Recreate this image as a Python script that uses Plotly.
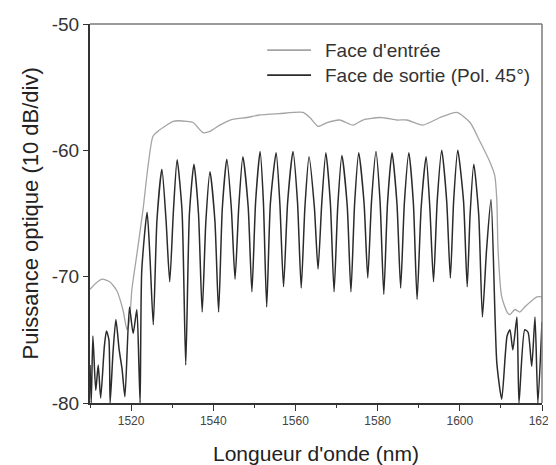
import plotly.graph_objects as go

# ---- data ----
gray_nm = [1510.0, 1511.5, 1513.0, 1514.8, 1516.5, 1518.0, 1519.0, 1519.6, 1520.2, 1521.2,
           1522.9, 1524.1, 1525.3, 1526.5, 1528.7, 1530.2, 1533.6, 1535.1, 1537.5, 1539.2,
           1541.6, 1544.1, 1548.2, 1551.4, 1556.0, 1561.8, 1563.5, 1565.5, 1567.7, 1570.8,
           1574.0, 1576.4, 1580.6, 1584.7, 1587.1, 1591.0, 1595.2, 1599.3, 1602.5, 1604.9,
           1607.3, 1608.5, 1609.0, 1609.3, 1610.2, 1611.5, 1612.2, 1613.4, 1614.6, 1615.8,
           1617.5, 1618.8, 1620.0]
gray_db = [-71.0, -70.5, -70.2, -70.4, -71.1, -72.6, -74.2, -73.5, -71.0, -68.7,
           -64.7, -61.3, -58.9, -58.5, -58.0, -57.7, -57.7, -57.8, -58.6, -58.5,
           -58.0, -57.6, -57.4, -57.2, -57.1, -57.0, -57.4, -58.1, -57.8, -57.6,
           -58.0, -57.6, -57.4, -57.6, -57.6, -58.0, -57.4, -57.0, -57.8, -59.3,
           -60.9, -62.0, -63.9, -67.8, -71.6, -72.8, -73.0, -72.6, -72.8, -72.4,
           -71.9, -71.6, -71.6]

# output face: noisy left tail, fringes (peak, wall, trough, wall ...), noisy right tail
black_nm = [1510.0, 1510.3, 1510.7, 1511.4, 1512.0, 1512.6, 1513.5, 1514.0, 1514.6, 1514.9,
            1515.6, 1516.3, 1517.1, 1517.8, 1518.5, 1519.6, 1520.5, 1521.4, 1521.9, 1522.2,
            1522.6,
            1523.9, 1524.6, 1525.4, 1526.3, 1527.5, 1528.5, 1529.4, 1530.3,
            1531.2, 1532.4, 1533.3, 1534.2, 1535.3, 1536.4, 1537.3, 1538.2,
            1539.2, 1540.4, 1541.3, 1542.2, 1543.3, 1544.4, 1545.3, 1546.2,
            1547.2, 1548.5, 1549.4, 1550.3, 1551.4, 1552.2, 1553.0, 1553.9,
            1555.3, 1556.2, 1557.1, 1558.1, 1559.4, 1560.5, 1561.4, 1562.3,
            1563.3, 1564.6, 1565.5, 1566.4, 1567.4, 1568.5, 1569.4, 1570.3,
            1571.3, 1572.6, 1573.5, 1574.4, 1575.4, 1576.7, 1577.6, 1578.5,
            1579.6, 1580.6, 1581.5, 1582.4, 1583.5, 1584.7, 1585.6, 1586.5,
            1587.6, 1588.7, 1589.6, 1590.6, 1591.8, 1592.7, 1593.6, 1594.5,
            1595.6, 1596.8, 1597.7, 1598.5, 1599.5, 1600.9, 1601.8, 1602.5,
            1603.4, 1604.6, 1605.5, 1606.5, 1607.6,
            1609.0, 1610.2, 1611.5, 1612.2, 1612.9, 1613.9, 1614.4, 1615.8, 1616.6, 1617.5,
            1618.3, 1619.0, 1620.0]
black_db = [-77.0, -80.0, -74.7, -79.0, -77.0, -79.6, -75.5, -74.3, -75.0, -80.0,
            -76.0, -73.4, -75.8, -77.3, -79.5, -72.4, -74.5, -72.6, -77.0, -80.0,
            -69.5,
            -64.9, -68.5, -73.8, -65.5, -61.5, -65.5, -70.4, -64.8,
            -60.75, -64.8, -77.0, -65.0, -61.1, -65.0, -72.8, -65.6,
            -61.7, -65.6, -72.8, -64.6, -60.7, -64.6, -70.2, -64.5,
            -60.5, -64.5, -71.2, -64.1, -60.1, -64.1, -72.4, -64.2,
            -60.2, -64.2, -70.8, -64.1, -60.1, -64.1, -70.9, -64.5,
            -60.5, -64.5, -69.4, -64.2, -60.2, -64.2, -71.2, -64.4,
            -60.4, -64.4, -71.2, -64.2, -60.2, -64.2, -70.1, -64.1,
            -60.1, -64.1, -71.4, -64.2, -60.2, -64.2, -70.9, -64.2,
            -60.2, -64.2, -71.8, -64.5, -60.5, -64.5, -70.4, -64.0,
            -60.0, -64.0, -70.1, -64.0, -60.0, -64.0, -70.8, -65.1,
            -61.1, -65.1, -73.2, -67.9, -63.9,
            -76.8, -79.7, -74.7, -74.2, -75.8, -73.2, -80.0, -74.2, -74.4, -77.1,
            -73.2, -80.0, -73.6]

series_names = ["Face d'entrée", "Face de sortie (Pol. 45°)"]
x_ticks = [1520, 1540, 1560, 1580, 1600, 1620]
x_tick_labels = ["1520", "1540", "1560", "1580", "1600", "1620"]
x_minor_ticks = [1510, 1530, 1550, 1570, 1590, 1610]
y_ticks = [-80, -70, -60, -50]
y_tick_labels = ["-80", "-70", "-60", "-50"]

GRAY = "#a4a4a4"
BLACK = "#2b2b2b"
FONT = "Arial, Liberation Sans, sans-serif"

fig = go.Figure()
fig.add_trace(go.Scatter(x=gray_nm, y=gray_db, mode="lines", name=series_names[0],
                         line=dict(color=GRAY, width=1.3, shape="spline", smoothing=0.6),
                         showlegend=False))
fig.add_trace(go.Scatter(x=black_nm, y=black_db, mode="lines", name=series_names[1],
                         line=dict(color=BLACK, width=1.5, shape="spline", smoothing=0.6),
                         showlegend=False))

# manual legend
leg_y = [0.931, 0.865]
for yy, col, name in zip(leg_y, [GRAY, BLACK], series_names):
    fig.add_shape(type="line", xref="paper", yref="paper", x0=0.392, x1=0.489, y0=yy, y1=yy,
                  line=dict(color=col, width=1.6))
    fig.add_annotation(xref="paper", yref="paper", x=0.516, y=yy, text=name, showarrow=False,
                       xanchor="left", yanchor="middle", font=dict(family=FONT, size=19, color="#333"))

# frame top/right (lighter)
fig.add_shape(type="line", xref="paper", yref="paper", x0=0, x1=1, y0=1, y1=1,
              line=dict(color="#7a7a7a", width=1.5))
fig.add_shape(type="line", xref="paper", yref="paper", x0=1, x1=1, y0=0, y1=1,
              line=dict(color="#7a7a7a", width=1.5))

# axis titles
fig.add_annotation(xref="paper", yref="paper", x=0.5, y=-0.132, text="Longueur d'onde (nm)",
                   showarrow=False, xanchor="center", yanchor="middle",
                   font=dict(family=FONT, size=21, color="#222"))
fig.add_annotation(xref="paper", yref="paper", x=-0.1327, y=0.5, text="Puissance optique (10 dB/div)",
                   showarrow=False, xanchor="center", yanchor="middle", textangle=-90,
                   font=dict(family=FONT, size=22, color="#222"))

# page body has an 8px margin: figure is 548x457 so the plot area sits at x 90-542, y 24-403 of the page
fig.update_layout(
    width=548, height=457,
    margin=dict(l=82, r=14, t=16, b=62, autoexpand=False),
    paper_bgcolor="white", plot_bgcolor="white",
    showlegend=False,
    xaxis=dict(range=[1510, 1620], tickvals=x_ticks, ticktext=x_tick_labels, automargin=False,
               ticks="outside", ticklen=6, tickwidth=1.3, tickcolor="#333",
               showline=True, linecolor="#333", linewidth=2, showgrid=False, zeroline=False,
               tickfont=dict(family=FONT, size=12, color="#444"),
               minor=dict(tickvals=x_minor_ticks, ticks="outside",
                          ticklen=3, tickcolor="#333", tickwidth=1.2)),
    yaxis=dict(range=[-80, -50], tickvals=y_ticks, ticktext=y_tick_labels, automargin=False,
               ticks="outside", ticklen=5, tickwidth=1.3, tickcolor="#333",
               showline=True, linecolor="#333", linewidth=2, showgrid=False, zeroline=False,
               tickfont=dict(family=FONT, size=19, color="#333")),
)

fig.write_html("out.html")
